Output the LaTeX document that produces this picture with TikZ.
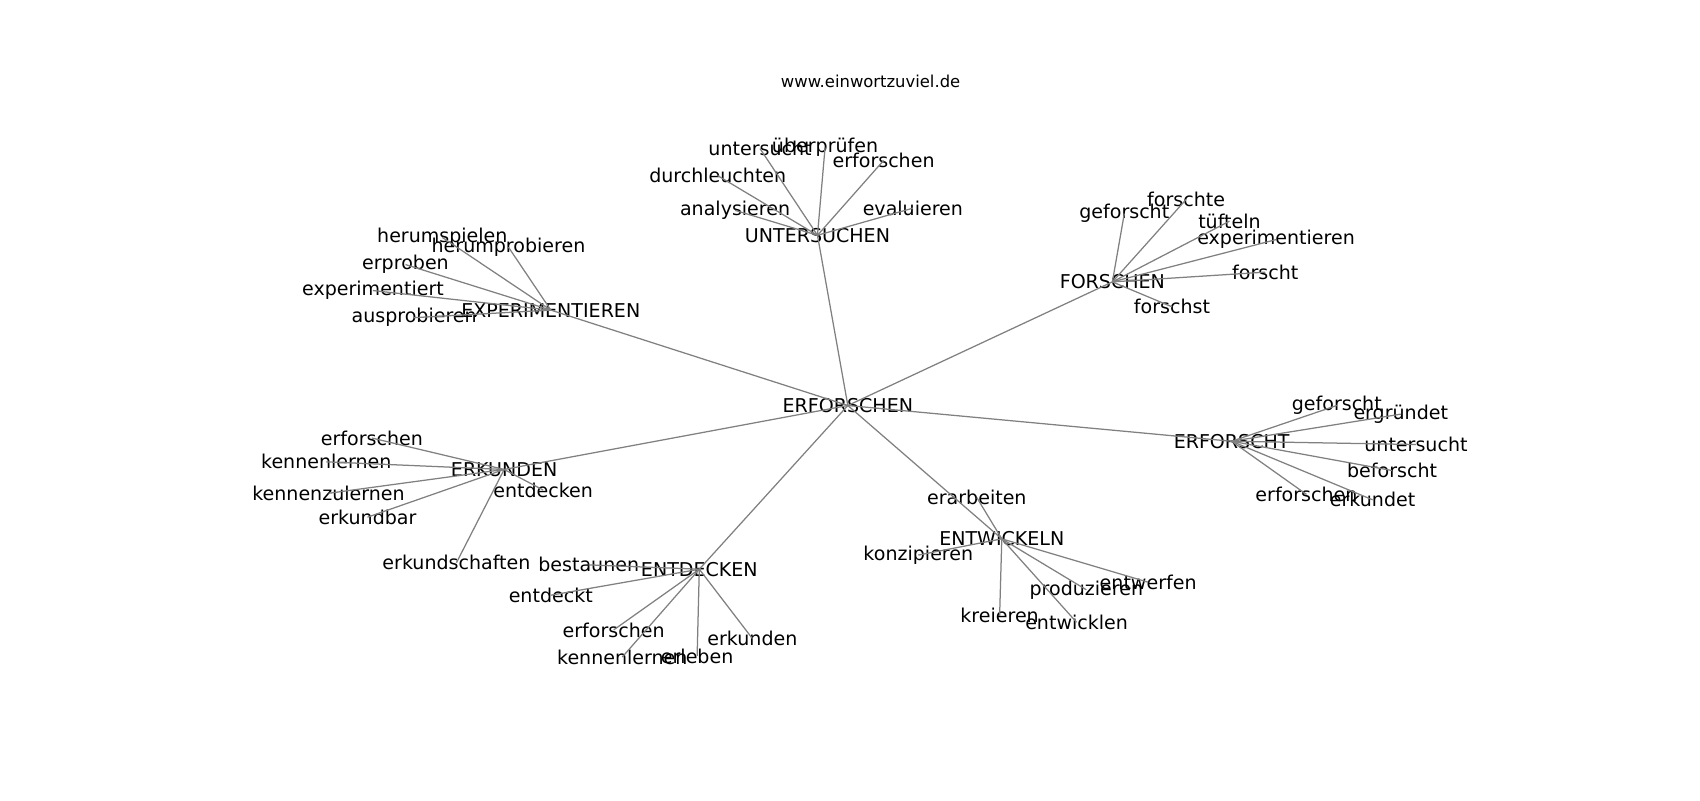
\documentclass[tikz,border=0pt]{standalone}
\usepackage{fontspec}
\setmainfont{DejaVu Sans}
\usepackage{tikz}
\tikzset{word/.style={font=\fontsize{13.7}{16}\selectfont,inner sep=0pt},
  link/.style={color=black!50,line width=0.9pt}}

\begin{document}
\begin{tikzpicture}[x=0.78pt,y=-0.78pt]
      \useasboundingbox (0,0) rectangle (1568,738);
      \path (803,75) node[font=\fontsize{11.8}{14}\selectfont] (site) {www.einwortzuviel.de};
      % hubs
      \node[word] (root) at (782,374) {ERFORSCHEN};
      \node[word] (unt) at (754,217) {UNTERSUCHEN};
      \node[word] (exp) at (508,286) {EXPERIMENTIEREN};
      \node[word] (for) at (1026,260) {FORSCHEN};
      \node[word] (erf) at (1136,407) {ERFORSCHT};
      \node[word] (erk) at (465,433) {ERKUNDEN};
      \node[word] (ent) at (645,525) {ENTDECKEN};
      \node[word] (ewk) at (924,497) {ENTWICKELN};
      % UNTERSUCHEN
      \node[word] (unt1) at (701,137) {untersucht};
      \node[word] (unt2) at (761,136) {überprüfen};
      \node[word] (unt3) at (815,148) {erforschen};
      \node[word] (unt4) at (662,162) {durchleuchten};
      \node[word] (unt5) at (678,194) {analysieren};
      \node[word] (unt6) at (842,192) {evaluieren};
      % EXPERIMENTIEREN
      \node[word] (exp1) at (408,219) {herumspielen};
      \node[word] (exp2) at (469,228) {herumprobieren};
      \node[word] (exp3) at (374,244) {erproben};
      \node[word] (exp4) at (344,268) {experimentiert};
      \node[word] (exp5) at (382,293) {ausprobieren};
      % FORSCHEN
      \node[word] (for1) at (1037,197) {geforscht};
      \node[word] (for2) at (1094,184) {forschte};
      \node[word] (for3) at (1134,204) {tüfteln};
      \node[word] (for4) at (1177,221) {experimentieren};
      \node[word] (for5) at (1167,251) {forscht};
      \node[word] (for6) at (1081,283) {forschst};
      % ERFORSCHT
      \node[word] (erf1) at (1233,374) {geforscht};
      \node[word] (erf2) at (1292,382) {ergründet};
      \node[word] (erf3) at (1306,410) {untersucht};
      \node[word] (erf4) at (1284,434) {beforscht};
      \node[word] (erf5) at (1205,456) {erforschen};
      \node[word] (erf6) at (1266,461) {erkundet};
      % ERKUNDEN
      \node[word] (erk1) at (343,404) {erforschen};
      \node[word] (erk2) at (301,426) {kennenlernen};
      \node[word] (erk3) at (303,455) {kennenzulernen};
      \node[word] (erk4) at (339,477) {erkundbar};
      \node[word] (erk5) at (501,452) {entdecken};
      \node[word] (erk6) at (421,519) {erkundschaften};
      % ENTDECKEN
      \node[word] (ent1) at (543,521) {bestaunen};
      \node[word] (ent2) at (508,549) {entdeckt};
      \node[word] (ent3) at (566,581) {erforschen};
      \node[word] (ent4) at (574,606) {kennenlernen};
      \node[word] (ent5) at (643,605) {erleben};
      \node[word] (ent6) at (694,589) {erkunden};
      % ENTWICKELN
      \node[word] (ewk1) at (901,459) {erarbeiten};
      \node[word] (ewk2) at (847,512) {konzipieren};
      \node[word] (ewk3) at (1002,544) {produzieren};
      \node[word] (ewk4) at (1059,537) {entwerfen};
      \node[word] (ewk5) at (922,568) {kreieren};
      \node[word] (ewk6) at (993,574) {entwicklen};
      % edges
      \foreach \h in {unt,exp,for,erf,erk,ent,ewk}
        \draw[link] (root.center) -- (\h.center);
      \foreach \h/\n in {unt/6,exp/5,for/6,erf/6,erk/6,ent/6,ewk/6}
        \foreach \i in {1,...,\n}
          \draw[link] (\h.center) -- (\h\i.center);
\end{tikzpicture}
\end{document}
